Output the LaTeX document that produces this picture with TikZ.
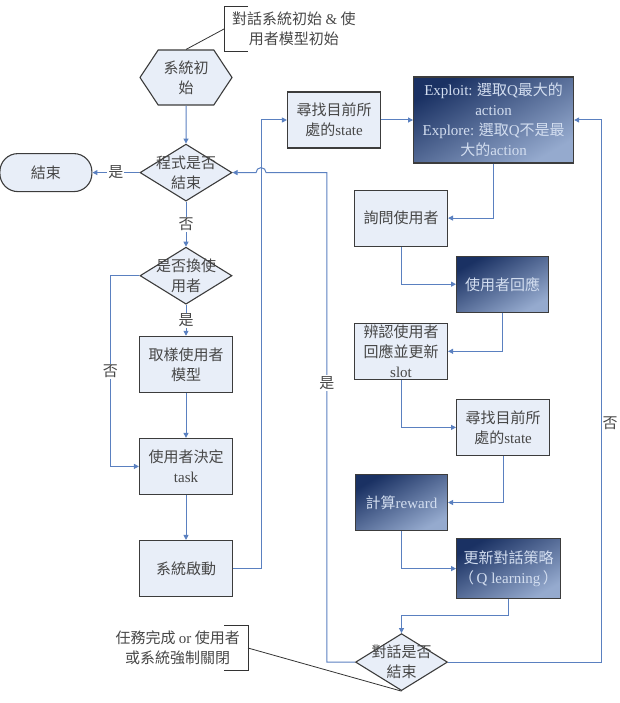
\documentclass[tikz,border=0pt]{standalone}
\usepackage{fontspec}
\setmainfont{Noto Sans CJK TC}
\newfontfamily\lat{Liberation Serif}
\usepackage{tikz}
\usetikzlibrary{positioning,shapes.geometric,shapes.symbols,arrows.meta,calc}

\definecolor{boxfill}{HTML}{E8EEF8}
\definecolor{boxline}{HTML}{3C3C3C}
\definecolor{flowline}{HTML}{5A80C0}
\definecolor{navy}{HTML}{1A3163}
\definecolor{navymid}{HTML}{274479}
\definecolor{navylight}{HTML}{95AACE}
\definecolor{inktext}{HTML}{474747}
\definecolor{paletext}{HTML}{D3DEF0}

\tikzset{
  txt/.style={font=\fontsize{15pt}{20pt}\selectfont, align=center},
  procbox/.style={txt, rectangle, draw=boxline, fill=boxfill, line width=1.1pt,
    text=inktext, minimum width=93pt, minimum height=56pt, inner sep=0pt},
  darkbox/.style={txt, rectangle, draw=boxline, line width=1.1pt, text=paletext,
    top color=navy, middle color=navymid, bottom color=navylight, shading angle=30,
    minimum width=92pt, minimum height=56pt, inner sep=0pt},
  hexbox/.style={txt, signal, signal to=east and west, signal pointer angle=113,
    draw=boxline, fill=boxfill, line width=1.1pt, text=inktext,
    minimum width=92pt, minimum height=55pt, inner sep=0pt},
  decision/.style={diamond, draw=boxline, fill=boxfill, line width=1.1pt,
    minimum width=92pt, minimum height=57pt, inner sep=0pt},
  qtext/.style={txt, text=inktext, inner sep=0pt},
  terminal/.style={txt, rectangle, rounded corners=18pt, draw=boxline, fill=boxfill,
    line width=1.1pt, text=inktext, minimum width=92pt, minimum height=38pt},
  notetext/.style={txt, text=inktext, minimum height=44pt, inner xsep=8pt},
  flow/.style={draw=flowline, line width=1pt, -{Triangle[length=5pt,width=5pt]}},
  callout/.style={draw=black!80, line width=0.8pt},
  choice/.style={txt, text=inktext, fill=white, inner sep=1pt},
}

\begin{document}
\begin{tikzpicture}[x=1pt,y=1pt]
  \useasboundingbox (0,0) rectangle (619,-703);

  % main column
  \node[hexbox] (sysinit) at (186,-77.5) {系統初\\始};
  \node[decision, below=38pt of sysinit, label={[qtext]center:程式是否\\結束}] (endq) {};
  \node[terminal, left=47pt of endq] (finish) {結束};
  \node[decision, below=45pt of endq, label={[qtext]center:是否換使\\用者}] (swapq) {};
  \node[procbox, below=31pt of swapq] (sample) {取樣使用者\\模型};
  \node[procbox, below=45pt of sample] (task) {使用者決定\\{\lat task}};
  \node[procbox, below=45pt of task] (start) {系統啟動};

  % dialogue loop
  \node[procbox] (find1) at (334,-120) {尋找目前所\\處的{\lat state}};
  \node[darkbox, minimum width=160pt, minimum height=86pt, right=32pt of find1] (exploit)
    {{\lat Exploit:} 選取{\lat Q}最大的\\{\lat action}\\{\lat Explore:} 選取{\lat Q}不是最\\大的{\lat action}};
  \node[procbox, below left=26pt and -35pt of exploit] (ask) {詢問使用者};
  \node[darkbox, below right=9pt and 8pt of ask] (reply) {使用者回應};
  \node[procbox, below left=10pt and 8pt of reply] (recog) {辨認使用者\\回應並更新\\{\lat slot}};
  \node[procbox, below right=19pt and 8pt of recog] (find2) {尋找目前所\\處的{\lat state}};
  \node[darkbox, below left=18pt and 8pt of find2] (reward) {計算{\lat reward}};
  \node[darkbox, minimum width=104pt, minimum height=60pt, below right=7pt and 8pt of reward] (update)
    {更新對話策略\\（\,{\lat Q learning}\,）};
  \node[decision, below=102pt of reward, label={[qtext]center:對話是否\\結束}] (dialq) {};

  % notes
  \node[notetext, anchor=west] (initnote) at (224,-29) {對話系統初始 {\lat\&} 使\\用者模型初始};
  \node[notetext, anchor=east] (endnote) at (248,-648) {任務完成 {\lat or} 使用者\\或系統強制關閉};
  \draw[callout] ([xshift=24pt]initnote.north west) -| (initnote.south west) -- ++(24pt,0);
  \draw[callout] ([xshift=-24pt]endnote.north east) -| (endnote.south east) -- ++(-24pt,0);
  \draw[callout] (initnote.west) -- (sysinit.north);
  \draw[callout] (endnote.east) -- (dialq.south);

  % connectors
  \coordinate (jx) at ([xshift=28pt]start.east);
  \draw[flow] (sysinit) -- (endq);
  \draw[flow] (endq.west) -- node[choice]{是} (finish.east);
  \draw[flow] (endq.south) -- node[choice]{否} (swapq.north);
  \draw[flow] (swapq.south) -- node[choice]{是} (sample.north);
  \draw[flow] (swapq.west) -- ++(-29pt,0) |- node[choice, pos=0.25]{否} (task.west);
  \draw[flow] (sample) -- (task);
  \draw[flow] (task) -- (start);
  \draw[flow] (start.east) -- (jx) |- (find1.west);
  \draw[flow] (find1) -- (exploit);
  \draw[flow] (exploit.south) |- (ask.east);
  \draw[flow] (ask.south) |- (reply.west);
  \draw[flow] (reply.south) |- (recog.east);
  \draw[flow] (recog.south) |- (find2.west);
  \draw[flow] (find2.south) |- (reward.east);
  \draw[flow] (reward.south) |- (update.west);
  \draw[flow] (update.south) -- ++(0,-16pt) -| (dialq.north);
  \draw[flow] (dialq.east) -- ++(153pt,0) |- node[txt, text=inktext, right=1pt, inner sep=0pt, pos=0.22]{否} (exploit.east);
  \draw[flow] (dialq.west) -- ++(-28pt,0) |- node[choice, pos=0.285]{是} ($(jx |- endq.east)+(5pt,0)$)
    arc[start angle=0, end angle=180, radius=5pt] -- (endq.east); % hop over the start line
\end{tikzpicture}
\end{document}
